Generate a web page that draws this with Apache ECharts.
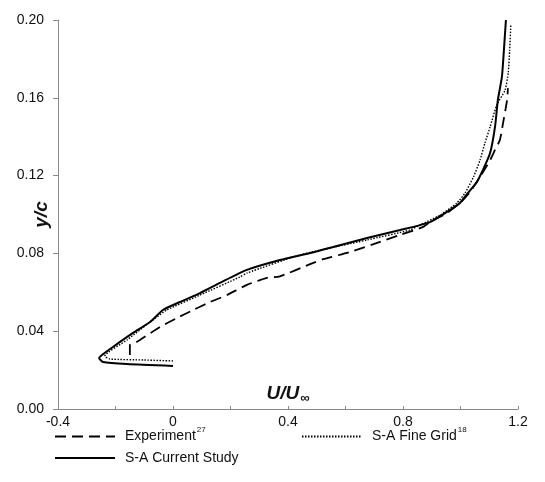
<!DOCTYPE html>
<html>
<head>
<meta charset="utf-8">
<script src="https://cdn.jsdelivr.net/npm/echarts@6/dist/echarts.min.js"></script>
<style>html,body{margin:0;padding:0;background:#fff;}#c{width:545px;height:482px;}</style>
</head>
<body>
<div id="c"></div>
<script>
// Tick labels
const xTicks = [-0.4, 0, 0.4, 0.8, 1.2];
const yTicks = [0.00, 0.04, 0.08, 0.12, 0.16, 0.20];

// Series names
const seriesNames = ['Experiment', 'S-A Fine Grid', 'S-A Current Study'];

// Experiment (dashed) [U/Uinf, y/c]
const experiment = [
  [-0.150, 0.0278], [-0.150, 0.0329], [-0.139, 0.0334], [-0.115, 0.0355],
  [-0.045, 0.0422], [0.014, 0.0468], [0.070, 0.0509], [0.129, 0.0550],
  [0.188, 0.0586], [0.257, 0.0638], [0.327, 0.0674], [0.372, 0.0682],
  [0.477, 0.0745], [0.522, 0.0770], [0.616, 0.0807], [0.720, 0.0859],
  [0.790, 0.0895], [0.870, 0.0936], [0.894, 0.0961], [0.953, 0.1008],
  [0.998, 0.1059], [1.033, 0.1116], [1.068, 0.1193], [1.103, 0.1280],
  [1.120, 0.1332], [1.137, 0.1383], [1.148, 0.1470], [1.162, 0.1589],
  [1.165, 0.1650]
];

// S-A Fine Grid (dotted)
const fineGrid = [
  [0.000, 0.0247], [-0.100, 0.0252], [-0.219, 0.0257], [-0.237, 0.0272],
  [-0.160, 0.0355], [-0.070, 0.0458], [-0.021, 0.0509], [0.094, 0.0586],
  [0.233, 0.0679], [0.257, 0.0699], [0.442, 0.0792], [0.675, 0.0869],
  [0.824, 0.0920], [0.859, 0.0946], [0.929, 0.0997], [0.987, 0.1059],
  [1.016, 0.1111], [1.045, 0.1193], [1.068, 0.1280], [1.085, 0.1368],
  [1.103, 0.1450], [1.126, 0.1563], [1.155, 0.1640], [1.166, 0.1728],
  [1.171, 0.1846], [1.175, 0.1974]
];

// S-A Current Study (solid)
const currentStudy = [
  [0.000, 0.0221], [-0.160, 0.0231], [-0.243, 0.0242], [-0.257, 0.0262],
  [-0.247, 0.0278], [-0.209, 0.0319], [-0.139, 0.0391], [-0.080, 0.0447],
  [-0.035, 0.0509], [0.024, 0.0550], [0.094, 0.0596], [0.163, 0.0648],
  [0.257, 0.0715], [0.372, 0.0766], [0.477, 0.0802], [0.557, 0.0833],
  [0.675, 0.0879], [0.790, 0.0920], [0.894, 0.0961], [0.963, 0.1023],
  [0.998, 0.1059], [1.026, 0.1111], [1.057, 0.1167], [1.078, 0.1229],
  [1.103, 0.1316], [1.120, 0.1450], [1.130, 0.1589], [1.144, 0.1707],
  [1.151, 0.1846], [1.158, 0.2000]
];

const FONT = '"Liberation Sans", Arial, sans-serif';
const chart = echarts.init(document.getElementById('c'), null, {renderer: 'canvas'});

function isTick(v, arr) { return arr.some(t => Math.abs(t - v) < 1e-6); }

const legendRich = {
  n: {fontFamily: FONT, fontSize: 14, color: '#111'},
  s: {fontFamily: FONT, fontSize: 8, color: '#111', padding: [0, 0, 13, 1]}
};
const legendFormatter = function (name) {
  if (name === 'Experiment') return '{n|Experiment}{s|27}';
  if (name === 'S-A Fine Grid') return '{n|S-A Fine Grid}{s|18}';
  return '{n|' + name + '}';
};
function mkLegend(name, left, top) {
  return {
    data: [name], left: left, top: top, padding: 0,
    itemWidth: 60, itemHeight: 14, itemGap: 0,
    formatter: legendFormatter,
    itemStyle: {opacity: 0},
    textStyle: {rich: legendRich, fontFamily: FONT, fontSize: 14, color: '#111', padding: [0, 0, 0, 5]},
    selectedMode: false
  };
}

const option = {
  animation: false,
  backgroundColor: '#fff',
  grid: {left: 58, right: 27, top: 20, bottom: 73, containLabel: false, outerBoundsMode: 'none'},
  legend: [
    mkLegend(seriesNames[0], 54, 426),
    mkLegend(seriesNames[1], 301, 426),
    mkLegend(seriesNames[2], 54, 451)
  ],
  xAxis: {
    type: 'value', min: -0.4, max: 1.2, interval: 0.2,
    name: '{a|U/U}{b|∞}',
    nameLocation: 'middle', nameGap: -4, nameMoveOverlap: false,
    nameTextStyle: {
      align: 'center', verticalAlign: 'bottom',
      rich: {
        a: {fontFamily: FONT, fontSize: 19, fontWeight: 'bold', fontStyle: 'italic', color: '#111'},
        b: {fontFamily: FONT, fontSize: 13, fontWeight: 'bold', color: '#111', padding: [9, 0, 0, 1]}
      }
    },
    axisLine: {show: true, onZero: false, lineStyle: {color: '#8a8a8a', width: 1}},
    axisTick: {show: true, inside: true, length: 3, lineStyle: {color: '#8a8a8a'}},
    splitLine: {show: false},
    axisLabel: {
      margin: 6, fontFamily: FONT, fontSize: 14, color: '#111',
      formatter: v => isTick(v, xTicks) ? String(parseFloat(v.toFixed(1))) : ''
    }
  },
  yAxis: {
    type: 'value', min: 0, max: 0.2, interval: 0.04,
    name: 'y/c', nameLocation: 'middle', nameGap: 7, nameRotate: 90, nameMoveOverlap: false,
    nameTextStyle: {fontFamily: FONT, fontSize: 19, fontWeight: 'bold', fontStyle: 'italic', color: '#111'},
    axisLine: {show: true, onZero: false, lineStyle: {color: '#8a8a8a', width: 1}},
    axisTick: {show: true, inside: false, length: 5, lineStyle: {color: '#8a8a8a'}},
    splitLine: {show: false},
    axisLabel: {
      margin: 14, fontFamily: FONT, fontSize: 14, color: '#111',
      formatter: v => isTick(v, yTicks) ? v.toFixed(2) : ''
    }
  },
  series: [
    {
      name: seriesNames[0], type: 'line', data: experiment, symbol: 'none', smooth: 0.2,
      lineStyle: {color: '#000', width: 1.8, type: [11, 6]}, itemStyle: {color: '#000'}, z: 2
    },
    {
      name: seriesNames[1], type: 'line', data: fineGrid, symbol: 'none', smooth: 0.2,
      lineStyle: {color: '#000', width: 1.4, type: [1.5, 1.5]}, itemStyle: {color: '#000'}, z: 3
    },
    {
      name: seriesNames[2], type: 'line', data: currentStudy, symbol: 'none', smooth: 0.2,
      lineStyle: {color: '#000', width: 2}, itemStyle: {color: '#000'}, z: 4
    }
  ]
};
chart.setOption(option);
</script>
</body>
</html>
